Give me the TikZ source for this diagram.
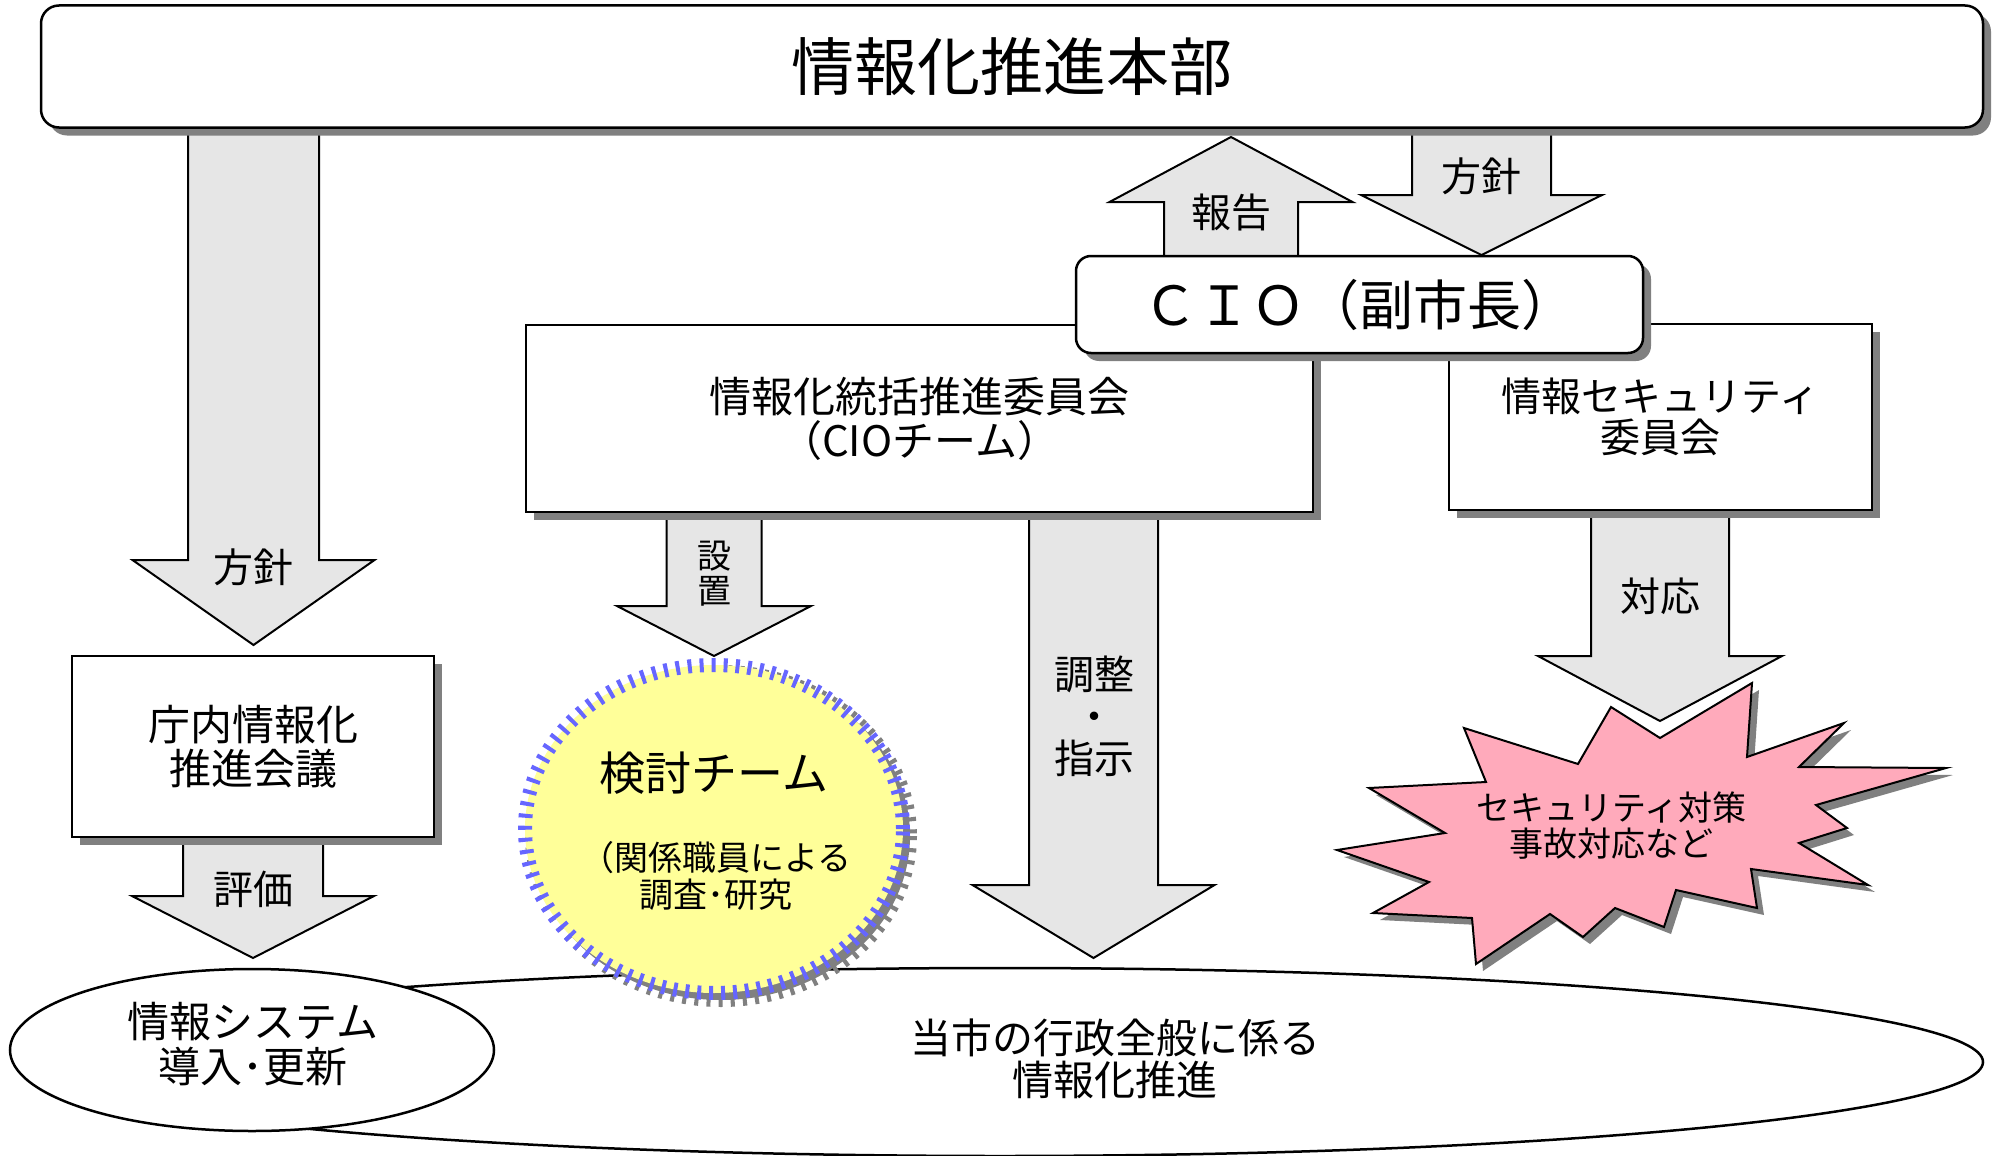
\documentclass[tikz,border=0pt]{standalone}
\usepackage{fontspec}
\setmainfont{Noto Sans CJK JP}
\usetikzlibrary{shadows,shapes.geometric}
\definecolor{shgray}{HTML}{808080}
\definecolor{arrowfill}{HTML}{E6E6E6}
\definecolor{tickblue}{HTML}{6666FF}
\definecolor{paleyellow}{HTML}{FFFF99}
\definecolor{burstpink}{HTML}{FFAABB}
\newcommand\blockdown[7]{%
  \draw[blockarrow] (#1-#5,#2) -- (#1-#5,#3) -- (#1-#6,#3) -- (#1,#4) -- (#1+#6,#3) -- (#1+#5,#3) -- (#1+#5,#2) -- cycle;
  \coordinate (#7) at (#1,#4);}
\tikzset{
  box/.style={draw, line width=2.5pt, fill=white, inner sep=0pt, align=center,
    drop shadow={shadow xshift=8pt, shadow yshift=-8pt, fill=shgray, opacity=1}},
  rbox/.style={box, rounded corners=18pt},
  blockarrow/.style={draw, line width=2pt, fill=arrowfill, line join=miter},
  lbl/.style={inner sep=0pt, align=center, font=\fontsize{40}{42}\selectfont},
  oval/.style={ellipse, draw, line width=2.5pt, fill=white, inner sep=0pt},
  ticks/.style={line width=14pt, dash pattern=on 4pt off 8pt},
}
\begin{document}
\begin{tikzpicture}[x=1pt,y=-1pt]
\useasboundingbox[fill=white] (0,0) rectangle (1998,1156);
% ellipses at the bottom
\node[oval, minimum width=1966pt, minimum height=188pt] (whole) at (1000,1062) {};
\node[lbl, font=\fontsize{41}{42}\selectfont] (wholetxt) at (1115,1059) {当市の行政全般に係る\\情報化推進};
\node[oval, minimum width=484pt, minimum height=162pt] (sys) at (252,1050) {};
\node[lbl, font=\fontsize{42}{45}\selectfont] (systxt) at (253,1044) {情報システム\\導入･更新};
% block arrows
\blockdown{253.5}{125}{560}{645}{65.5}{121}{a1}
\blockdown{253}{830}{896}{958}{70}{121}{a2}
\blockdown{1481.5}{130}{195}{255}{69.5}{120.5}{a3}
\blockdown{714}{505}{606}{656}{47.5}{97}{a4}
\blockdown{1093.5}{505}{885}{958}{64.5}{121}{a5}
\blockdown{1660}{505}{656}{721}{69}{122}{a6}
\blockdown{1231}{265}{202}{137}{67}{121.5}{a7}
% boxes
\node[rbox, minimum width=1942pt, minimum height=122pt, font=\fontsize{63}{66}\selectfont] (hq) at (1012,66.5) {情報化推進本部};
\node[box, minimum width=787pt, minimum height=187pt, font=\fontsize{42}{44}\selectfont] (cmt) at (919.5,418.5) {情報化統括推進委員会\\（CIOチーム）};
\node[box, minimum width=423pt, minimum height=186pt, font=\fontsize{40}{41}\selectfont] (sec) at (1660.5,417) {情報セキュリティ\\委員会};
\node[box, minimum width=362pt, minimum height=181pt, font=\fontsize{42}{44}\selectfont] (chonai) at (253,746.5) {庁内情報化\\推進会議};
\node[rbox, rounded corners=15pt, minimum width=567pt, minimum height=97pt, font=\fontsize{54}{56}\selectfont] (cio) at (1359.5,304.5) {ＣＩＯ（副市長）};
% study team circle
\fill[shgray] (721,836) ellipse [x radius=189, y radius=164];
\draw[shgray, ticks] (721,836) ellipse [x radius=189, y radius=164];
\node[ellipse, fill=paleyellow, draw=tickblue, ticks, minimum width=378pt, minimum height=328pt, inner sep=0pt] (team) at (714,829) {};
\node[lbl, font=\fontsize{46}{48}\selectfont] (teamtitle) at (714,773) {検討チーム};
\node[lbl, font=\fontsize{34}{37}\selectfont] (teamsub) at (716,876) {（関係職員による\\調査･研究};
% starburst
\def\burst{(1752,683) -- (1747,757) -- (1844,723) -- (1799,767) -- (1946,768) -- (1816,805) -- (1847,828) -- (1799,843) -- (1868,885) -- (1751,869) -- (1757,908) -- (1676,890) -- (1664,927) -- (1615,908) -- (1583,937) -- (1550,914) -- (1476,964) -- (1472,918) -- (1373,913) -- (1429,882) -- (1337,850) -- (1445,833) -- (1369,788) -- (1486,782) -- (1464,728) -- (1578,764) -- (1611,707) -- (1660,738) -- cycle}
\fill[shgray, shift={(7,7)}] \burst;
\draw[fill=burstpink, line width=2pt, line join=miter] \burst;
\node[lbl, font=\fontsize{34}{36}\selectfont] (bursttxt) at (1611,826) {セキュリティ対策\\事故対応など};
% arrow labels
\node[lbl] (l1) at (253,567) {方針};
\node[lbl] (l2) at (253,889) {評価};
\node[lbl] (l3) at (1481,176) {方針};
\node[lbl] (l7) at (1231,212) {報告};
\node[lbl, font=\fontsize{34}{35}\selectfont] (l4) at (714,574) {設\\置};
\node[lbl] (l5) at (1094,716) {調整\\・\\指示};
\node[lbl] (l6) at (1660,596) {対応};
\end{tikzpicture}
\end{document}
